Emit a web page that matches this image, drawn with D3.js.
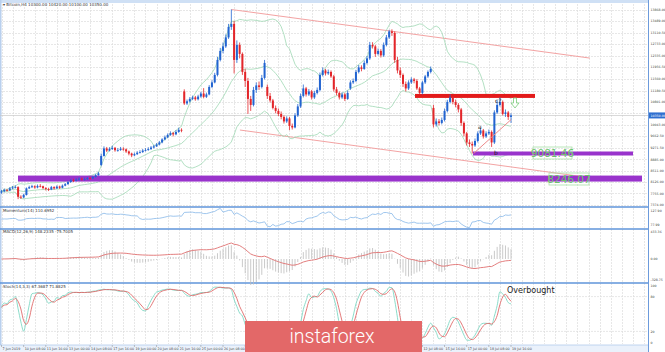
<!DOCTYPE html>
<html>
<head>
<meta charset="utf-8">
<script src="https://cdn.jsdelivr.net/npm/d3@7"></script>
<style>
body { margin: 0; background: #fff; }
svg { display: block; font-family: "DejaVu Sans", sans-serif; }
</style>
</head>
<body>
<svg id="chart" width="665" height="352"></svg>
<script>
// Bitcoin H4, 7 Jun - 19 Jul 2019 (weekends skipped), one value per bar
var closes = [7820,7870,7850,7920,7950,7960, 7640,7620,7700,7920,7960,7990, 7950,8000,7990,7930,7900,7880,
  7960,7920,7980,7940,8010,8060, 8130,8190,8170,8210,8240,8220, 8230,8260,8250,8300,8360,8420,
  9000,9250,9180,9230,9270,9190, 9200,9240,9220,9150,9080,9020, 9060,9110,9130,9180,9200,9230,
  9280,9320,9380,9450,9550,9620, 9700,9760,9720,9800,9870,9850,
  10750,10820,10900,10950,10890,10980, 11080,10970,11050,11300,11450,11700, 12200,12500,12650,12950,13300,13400,
  12200,12700,12400,11800,11500,10900, 10700,11200,11350,11300,11600,12100,
  11000,10850,10600,10500,10400,10300, 10150,10250,10000,9950,10350,10650, 11000,11250,11050,11150,10950,11100,
  11200,11700,11850,11750,11800,11650, 11220,11100,10950,11050,10900,11100,
  11450,11500,11800,11950,11900,12100, 12250,12700,12650,12400,12500,12350, 12700,12950,13150,13100,12200,11850,
  11700,11400,11250,11450,11550,11500, 11250,11100,11450,11650,11800,11900,
  10050,10150,10100,10200,10500,10800, 10950,10800,10700,10550,10100,9750, 9450,9400,9350,9500,9750,9850,
  9650,9750,9800,9450,10450,10700, 10800,10400,10450,10300,10350];
var highs = [7870,7910,7900,7960,8000,8020, 7990,7690,7740,7950,8010,8040, 8020,8050,8060,8010,7960,7940,
  8000,7990,8020,8010,8050,8100, 8170,8230,8240,8260,8290,8280, 8280,8300,8310,8340,8400,8470,
  9080,9320,9300,9290,9340,9300, 9260,9300,9290,9250,9180,9110, 9110,9160,9190,9230,9260,9290,
  9330,9370,9430,9500,9590,9680, 9750,9820,9800,9860,9940,9920,
  11220,10880,10960,11010,11000,11040, 11140,11260,11110,11360,11520,11770, 12300,12600,12780,13050,13400,13880,
  13500,12850,12780,12450,11900,11600, 11000,11300,11450,11480,11700,12200,
  11380,11100,10900,10680,10580,10480, 10350,10320,10300,10080,10420,10730, 11080,11380,11300,11230,11200,11170,
  11280,11780,11950,11900,11880,11850, 11700,11300,11150,11120,11100,11180,
  11520,11580,11870,12030,12020,12180, 12330,12800,12790,12700,12580,12560, 12780,13030,13200,13220,13150,12300,
  11950,11750,11480,11520,11620,11600, 11560,11300,11500,11700,11850,11980,
  10700,10250,10230,10280,10580,10870, 11050,11000,10880,10760,10600,10150, 9800,9550,9480,9580,9820,9920,
  9900,9820,9880,9850,10520,10850, 10950,10850,10550,10500,10420];
var lows = [7740,7790,7810,7830,7890,7920, 7560,7570,7590,7680,7900,7930, 7910,7920,7950,7890,7850,7830,
  7860,7880,7900,7900,7920,7990, 8040,8100,8130,8150,8180,8180, 8180,8200,8210,8230,8280,8340,
  8660,8980,9130,9150,9200,9140, 9140,9170,9170,9100,9020,8960, 8990,9030,9080,9100,9150,9170,
  9200,9250,9300,9350,9420,9520, 9590,9670,9650,9690,9770,9790,
  10700,10700,10780,10860,10840,10850, 10940,10920,10930,11020,11260,11420, 11650,12150,12420,12600,12900,13200,
  11750,12100,12250,11700,11300,10400, 10500,10650,11100,11200,11250,11550,
  10900,10780,10550,10420,10330,10220, 10080,10100,9860,9880,9920,10300, 10600,10950,10980,11000,10880,10900,
  11050,11150,11650,11680,11700,11600, 11150,11020,10880,10900,10830,10870,
  11200,11400,11460,11750,11820,11870, 12050,12200,12580,12300,12350,12280, 12300,12650,12900,13000,12100,11750,
  11600,11300,11150,11200,11400,11420, 11200,11050,11050,11400,11600,11750,
  9950,9980,10020,10050,10150,10450, 10750,10720,10620,10450,10000,9650, 9350,9300,9081,9300,9450,9700,
  9580,9600,9700,9300,9400,10400, 10650,10350,10300,10200,10100];
// opens equal the previous close, except where the market reopened after a weekend
var gapOpens = [[0, 7780], [36, 8700], [66, 11150], [96, 11300], [126, 11250], [156, 10600]];

var dateLabels = ["7 Jun 2019","10 Jun 08:00","11 Jun 16:00","13 Jun 00:00","14 Jun 08:00","17 Jun 16:00",
  "19 Jun 00:00","20 Jun 08:00","21 Jun 16:00","25 Jun 00:00","26 Jun 08:00","27 Jun 16:00",
  "1 Jul 00:00","2 Jul 08:00","3 Jul 16:00","5 Jul 00:00","8 Jul 08:00","9 Jul 16:00",
  "11 Jul 00:00","12 Jul 08:00","15 Jul 16:00","17 Jul 00:00","18 Jul 08:00","19 Jul 16:00"];
var priceTicks = [13868.00,13489.00,13110.50,12733.00,12335.00,11956.50,11560.00,11180.50,10801.00,
  10422.00,10043.00,9662.50,9271.50,8885.00,8511.00,8126.00,7755.00,7374.00];
var supportLevels = [9081.46, 8246.07];
var resistanceLevel = 11000;
// channel lines as [bar, price] pairs
var upperChannel = [[83, 13880], [212.5, 12261]];
var lowerChannel = [[86.1, 9864], [216, 8232]];
var abcLine = [[170.5, 9081], [184, 10210]];
var stochLevels = [100, 80, 20, 0];

var W = 665, H = 352, axisX = 648;
var svg = d3.select("#chart");

var n = closes.length;
var opens = closes.map(function(c, i) { return i > 0 ? closes[i - 1] : c; });
gapOpens.forEach(function(g) { opens[g[0]] = g[1]; });

// indicators from the bars
function windowOf(arr, i, len) { return arr.slice(Math.max(0, i - len + 1), i + 1); }
var bbMid = [], bbUp = [], bbLo = [];
closes.forEach(function(c, i) {
  var w = windowOf(closes, i, 20), m = d3.mean(w);
  var sd = Math.sqrt(d3.mean(w, function(v) { return (v - m) * (v - m); }));
  bbMid.push(m); bbUp.push(m + 2 * sd); bbLo.push(m - 2 * sd);
});
function ema(arr, len) {
  var k = 2 / (len + 1), out = [], prev = arr[0];
  arr.forEach(function(v) { prev = v * k + prev * (1 - k); out.push(prev); });
  return out;
}
var e12 = ema(closes, 12), e26 = ema(closes, 26);
var macd = e12.map(function(v, i) { return v - e26[i]; });
var macdSignal = macd.map(function(v, i) { return d3.mean(windowOf(macd, i, 9)); });
var osma = macd.map(function(v, i) { return v - macdSignal[i]; });
var rawK = closes.map(function(c, i) {
  var hh = d3.max(windowOf(highs, i, 14)), ll = d3.min(windowOf(lows, i, 14));
  return hh === ll ? 50 : (c - ll) / (hh - ll) * 100;
});
var stochK = rawK.map(function(v, i) { return d3.mean(windowOf(rawK, i, 3)); });
var stochD = stochK.map(function(v, i) { return d3.mean(windowOf(stochK, i, 3)); });
var momentum = closes.map(function(c, i) { return c / closes[Math.max(0, i - 14)] * 100; });

// scales
var x = d3.scaleLinear().domain([0, n - 1]).range([1.5, 511]);
var y = d3.scaleLinear().domain([9081.46, 13880]).range([153.5, 9.5]);
var yMom = d3.scaleLinear().domain([d3.min(momentum) - 1, d3.max(momentum) + 1]).range([228, 208]);
var histMax = d3.max(osma, Math.abs);
var yHist = d3.scaleLinear().domain([0, histMax]).range([259, 233]);
var yMacd = d3.scaleLinear().domain([0, d3.max(macd, Math.abs)]).range([259, 243]);
var yStoch = d3.scaleLinear().domain([0, 100]).range([343, 285]);

// grid
var grid = svg.append("g").attr("stroke", "#dcdcdc").attr("stroke-dasharray", "2,1").attr("stroke-width", 0.7);
d3.range(0, 235, 4).forEach(function(b) {
  var gx = Math.round(x(b)) + 0.5;
  if (gx < axisX) grid.append("line").attr("x1", gx).attr("x2", gx).attr("y1", 4).attr("y2", 344);
});
priceTicks.forEach(function(p) {
  var gy = Math.round(y(p)) + 0.5;
  grid.append("line").attr("x1", 0).attr("x2", axisX).attr("y1", gy).attr("y2", gy);
});
[80, 20].forEach(function(v) {
  grid.append("line").attr("x1", 0).attr("x2", axisX).attr("y1", yStoch(v)).attr("y2", yStoch(v));
});

// header, borders
svg.append("rect").attr("x", 0).attr("y", 0).attr("width", W).attr("height", 3).attr("fill", "#cfe0f5");
svg.append("rect").attr("x", 0).attr("y", 0).attr("width", 1.5).attr("height", H).attr("fill", "#b9d0ee");
svg.append("text").attr("x", 3).attr("y", 5.5).attr("font-size", 4).attr("fill", "#333")
  .text("\u25BE Bitcoin,H4  " + [opens[n-1], highs[n-1], lows[n-1], closes[n-1]].map(function(v) { return v.toFixed(2); }).join(" "));

// channel lines
function chan(pts, col) {
  svg.append("line").attr("x1", x(pts[0][0])).attr("y1", y(pts[0][1]))
    .attr("x2", x(pts[1][0])).attr("y2", y(pts[1][1]))
    .attr("stroke", col).attr("stroke-width", 1);
}
chan(upperChannel, "#f3a3a3");
chan(lowerChannel, "#f3a3a3");

// Bollinger bands
var bl = d3.line().x(function(d, i) { return x(i); }).y(function(d) { return y(d); });
[bbUp, bbMid, bbLo].forEach(function(s) {
  svg.append("path").attr("d", bl(s)).attr("fill", "none").attr("stroke", "#9fd8b4").attr("stroke-width", 0.8);
});

// support / resistance
svg.append("rect").attr("x", 473).attr("width", 633 - 473).attr("y", y(supportLevels[0]) - 2).attr("height", 4).attr("fill", "#9933cc");
svg.append("rect").attr("x", 18).attr("width", 642 - 18).attr("y", y(supportLevels[1]) - 3).attr("height", 6).attr("fill", "#9933cc");
svg.append("rect").attr("x", 415).attr("width", 535 - 415).attr("y", y(resistanceLevel) - 2).attr("height", 4).attr("fill", "#e31b1b");

// bid line
svg.append("line").attr("x1", 0).attr("x2", axisX).attr("y1", Math.round(y(closes[n-1])) + 0.5).attr("y2", Math.round(y(closes[n-1])) + 0.5)
  .attr("stroke", "#c8c8c8").attr("stroke-width", 0.7);

// candles
var cg = svg.append("g");
closes.forEach(function(c, i) {
  var o = opens[i], col = c >= o ? "#2264d1" : "#e3262a";
  var cx = x(i);
  cg.append("line").attr("x1", cx).attr("x2", cx).attr("y1", y(highs[i])).attr("y2", y(lows[i]))
    .attr("stroke", col).attr("stroke-width", 0.8);
  var top = y(Math.max(o, c)), bot = y(Math.min(o, c));
  cg.append("rect").attr("x", cx - 1).attr("width", 2).attr("y", top).attr("height", Math.max(0.8, bot - top)).attr("fill", col);
});

// abc annotation
chan(abcLine, "#ec8a8a");
svg.append("text").attr("x", 478).attr("y", 129).attr("font-size", 6).attr("fill", "#222").text("a");
svg.append("text").attr("x", 494).attr("y", 155).attr("font-size", 6).attr("fill", "#222").text("b");
svg.append("text").attr("x", 495).attr("y", 103).attr("font-size", 6).attr("fill", "#222").text("c?");
svg.append("path").attr("d", "M513.5,98 h3 v5 h2.5 l-4,5 l-4,-5 h2.5 z").attr("fill", "#fff").attr("stroke", "#78cc78").attr("stroke-width", 0.8);

// level labels
function levelLabel(v, bx, by, bw) {
  svg.append("rect").attr("x", bx).attr("y", by).attr("width", bw).attr("height", 12)
    .attr("fill", "none").attr("stroke", "#a8e0a8").attr("stroke-width", 0.8);
  svg.append("text").attr("x", bx + bw / 2).attr("y", by + 10).attr("text-anchor", "middle")
    .attr("font-size", 10.5).attr("fill", "#6cc46c").text(v.toFixed(2));
}
levelLabel(supportLevels[0], 533, 147, 39);
levelLabel(supportLevels[1], 549, 173, 40);

// separators
[207, 229, 283].forEach(function(sy) {
  svg.append("line").attr("x1", 0).attr("x2", axisX).attr("y1", sy).attr("y2", sy).attr("stroke", "#5f95da").attr("stroke-width", 1.5);
});
svg.append("rect").attr("x", 0).attr("y", 345).attr("width", axisX).attr("height", 7).attr("fill", "#eaf1fb");
svg.append("line").attr("x1", 0).attr("x2", axisX).attr("y1", 345).attr("y2", 345).attr("stroke", "#a9c4ea").attr("stroke-width", 0.7);

// momentum panel
svg.append("path").attr("d", d3.line().x(function(d, i) { return x(i); }).y(function(d) { return yMom(d); })(momentum))
  .attr("fill", "none").attr("stroke", "#86b8e8").attr("stroke-width", 0.8);
svg.append("text").attr("x", 3).attr("y", 212).attr("font-size", 4).attr("fill", "#333")
  .text("Momentum(14) " + momentum[n-1].toFixed(4));

// MACD panel: histogram and MACD line
var mg = svg.append("g");
osma.forEach(function(v, i) {
  mg.append("line").attr("x1", x(i)).attr("x2", x(i)).attr("y1", yHist(0)).attr("y2", yHist(v))
    .attr("stroke", "#bdbdbd").attr("stroke-width", 0.8);
});
svg.append("path").attr("d", d3.line().x(function(d, i) { return x(i); }).y(function(d) { return yMacd(d); })(macd))
  .attr("fill", "none").attr("stroke", "#e07070").attr("stroke-width", 0.9);
svg.append("text").attr("x", 3).attr("y", 233).attr("font-size", 4).attr("fill", "#333")
  .text("MACD(12,26,9) " + osma[n-1].toFixed(4) + " " + macd[n-1].toFixed(4));

// stochastic panel
var sl = d3.line().x(function(d, i) { return x(i); }).y(function(d) { return yStoch(d); }).curve(d3.curveMonotoneX);
svg.append("path").attr("d", sl(stochK)).attr("fill", "none").attr("stroke", "#7fd8c4").attr("stroke-width", 0.9);
svg.append("path").attr("d", sl(stochD)).attr("fill", "none").attr("stroke", "#e06a6a").attr("stroke-width", 0.9);
svg.append("text").attr("x", 3).attr("y", 287.5).attr("font-size", 4).attr("fill", "#333")
  .text("Stoch(14,3,3) " + stochK[n-1].toFixed(4) + " " + stochD[n-1].toFixed(4));
svg.append("text").attr("x", 507).attr("y", 293).attr("font-size", 8).attr("fill", "#222").text("Overbought");

// right axis
svg.append("rect").attr("x", axisX).attr("y", 0).attr("width", W - axisX).attr("height", H).attr("fill", "#fff");
svg.append("line").attr("x1", axisX + 0.5).attr("x2", axisX + 0.5).attr("y1", 0).attr("y2", H).attr("stroke", "#6d9bdc").attr("stroke-width", 1);
var ax = svg.append("g").attr("font-size", 3.2).attr("fill", "#444");
var cy = y(closes[n-1]);
priceTicks.forEach(function(p) {
  if (Math.abs(y(p) - cy) > 5) ax.append("text").attr("x", axisX + 2.5).attr("y", y(p) + 1.2).text(p.toFixed(2));
});
svg.append("rect").attr("x", axisX + 1).attr("y", cy - 3).attr("width", W - axisX - 1).attr("height", 6).attr("fill", "#2f6fd0");
svg.append("text").attr("x", axisX + 2.5).attr("y", cy + 1.2).attr("font-size", 3.2).attr("fill", "#fff").text(closes[n-1].toFixed(2));
[yMom.domain()[1], yMom.domain()[0]].forEach(function(v, k) {
  ax.append("text").attr("x", axisX + 2.5).attr("y", k ? 226 : 211.5).text(v.toFixed(2));
});
[[yHist.invert(230), 232.5], [0, yHist(0) + 1.2], [yHist.invert(281), 280.5]].forEach(function(t) {
  ax.append("text").attr("x", axisX + 2.5).attr("y", t[1]).text(t[0].toFixed(2));
});
stochLevels.forEach(function(v) {
  ax.append("text").attr("x", axisX + 2.5).attr("y", Math.min(349, Math.max(287, yStoch(v) + 1.2))).text(v);
});

// date axis
var dg = svg.append("g").attr("font-size", 3.3).attr("fill", "#444");
dateLabels.forEach(function(t, k) {
  var dx = x(k * 8);
  dg.append("line").attr("x1", dx).attr("x2", dx).attr("y1", 345).attr("y2", 347).attr("stroke", "#888").attr("stroke-width", 0.5);
  dg.append("text").attr("x", dx + 1).attr("y", 350).text(t);
});

// watermark
svg.append("rect").attr("x", 245).attr("y", 321).attr("width", 177).attr("height", 31).attr("fill", "#e36868");
svg.append("text").attr("x", 332).attr("y", 343).attr("text-anchor", "middle").attr("font-family", "Roboto")
  .attr("font-weight", 300).attr("font-size", 19.5).attr("fill", "#fff").text("instaforex");
</script>
</body>
</html>
